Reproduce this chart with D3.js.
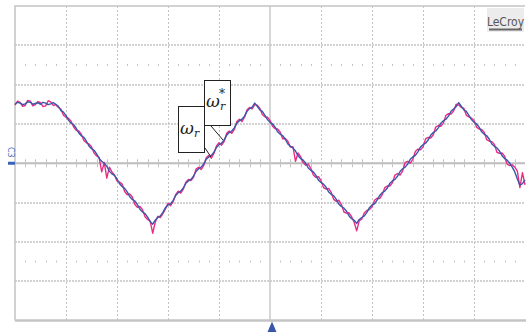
<!DOCTYPE html>
<html>
<head>
<meta charset="utf-8">
<script src="https://cdn.jsdelivr.net/npm/d3@7"></script>
<style>
    body { margin: 0; background: #fff; }
    svg { display: block; }
</style>
</head>
<body>
<div id="scope"></div>
<script>
// screen is 10 x 8 divisions, traces read every 0.05 div
const divsX = d3.range(0, 11)
const divsY = d3.range(-4, 5)
const sampleTimes = d3.range(0, 201).map(i => +(i * 0.05).toFixed(2))

// omega_r (pink, noisier)
const omegaR = [
    1.48, 1.58, 1.55, 1.45, 1.47, 1.60, 1.58, 1.46, 1.49, 1.57,
    1.54, 1.44, 1.46, 1.59, 1.56, 1.47, 1.49, 1.42, 1.38, 1.22,
    1.17, 1.14, 1.07, 0.92, 0.84, 0.82, 0.74, 0.58, 0.52, 0.49,
    0.42, 0.26, 0.19, 0.15, -0.22, 0.02, -0.38, -0.10, -0.22, -0.30,
    -0.45, -0.48, -0.53, -0.72, -0.80, -0.78, -0.86, -1.05, -1.12, -1.10,
    -1.18, -1.36, -1.43, -1.47, -1.78, -1.50, -1.35, -1.38, -1.28, -1.16,
    -1.02, -1.08, -0.98, -0.80, -0.71, -0.76, -0.66, -0.48, -0.41, -0.44,
    -0.36, -0.15, -0.10, -0.16, -0.06, 0.14, 0.20, 0.13, 0.25, 0.44,
    0.52, 0.46, 0.55, 0.76, 0.82, 0.76, 0.86, 1.06, 1.12, 1.06,
    1.17, 1.36, 1.42, 1.38, 1.49, 1.48, 1.40, 1.24, 1.18, 1.17,
    1.09, 0.94, 0.88, 0.87, 0.79, 0.62, 0.63, 0.56, 0.41, 0.42,
    0.05, 0.26, 0.17, 0.02, -0.05, -0.02, -0.13, -0.30, -0.36, -0.34,
    -0.44, -0.62, -0.66, -0.64, -0.74, -0.92, -0.97, -0.94, -1.05, -1.24,
    -1.27, -1.26, -1.36, -1.50, -1.72, -1.46, -1.42, -1.26, -1.20, -1.18,
    -1.11, -0.94, -0.89, -0.90, -0.80, -0.62, -0.58, -0.58, -0.50, -0.30,
    -0.26, -0.30, -0.20, 0.02, 0.05, 0.00, 0.10, 0.30, 0.36, 0.34,
    0.41, 0.62, 0.66, 0.64, 0.72, 0.92, 0.96, 0.94, 1.02, 1.22,
    1.26, 1.25, 1.33, 1.50, 1.48, 1.42, 1.40, 1.22, 1.18, 1.15,
    1.09, 0.92, 0.87, 0.86, 0.79, 0.60, 0.56, 0.55, 0.48, 0.28,
    0.25, 0.26, 0.18, -0.02, -0.06, -0.04, -0.10, -0.20, -0.62, -0.24,
    -0.55
]

// omega_r* (blue)
const omegaRef = [
    1.50, 1.55, 1.53, 1.49, 1.51, 1.56, 1.55, 1.50, 1.52, 1.54,
    1.50, 1.55, 1.53, 1.49, 1.51, 1.54, 1.50, 1.45, 1.34, 1.30,
    1.21, 1.09, 1.02, 0.98, 0.89, 0.77, 0.70, 0.66, 0.56, 0.44,
    0.37, 0.33, 0.24, 0.12, 0.05, 0.00, -0.08, -0.20, -0.27, -0.31,
    -0.40, -0.52, -0.59, -0.64, -0.73, -0.85, -0.92, -0.96, -1.05, -1.17,
    -1.24, -1.28, -1.37, -1.48, -1.55, -1.45, -1.38, -1.34, -1.25, -1.13,
    -1.06, -1.03, -0.95, -0.82, -0.75, -0.71, -0.63, -0.51, -0.45, -0.41,
    -0.33, -0.21, -0.14, -0.10, -0.02, 0.10, 0.16, 0.20, 0.28, 0.40,
    0.47, 0.51, 0.59, 0.71, 0.78, 0.82, 0.90, 1.02, 1.08, 1.12,
    1.20, 1.32, 1.39, 1.43, 1.53, 1.45, 1.36, 1.32, 1.22, 1.11,
    1.04, 1.00, 0.92, 0.80, 0.74, 0.70, 0.61, 0.49, 0.43, 0.39,
    0.31, 0.19, 0.12, 0.08, 0.00, -0.12, -0.18, -0.22, -0.31, -0.43,
    -0.49, -0.53, -0.61, -0.73, -0.79, -0.83, -0.92, -1.04, -1.10, -1.14,
    -1.22, -1.34, -1.41, -1.45, -1.53, -1.43, -1.38, -1.34, -1.25, -1.13,
    -1.06, -1.03, -0.94, -0.82, -0.75, -0.71, -0.63, -0.51, -0.45, -0.41,
    -0.33, -0.21, -0.14, -0.10, -0.02, 0.10, 0.16, 0.20, 0.29, 0.41,
    0.47, 0.51, 0.59, 0.71, 0.78, 0.82, 0.90, 1.02, 1.08, 1.12,
    1.20, 1.32, 1.38, 1.44, 1.54, 1.45, 1.36, 1.32, 1.22, 1.11,
    1.04, 1.00, 0.92, 0.80, 0.74, 0.70, 0.61, 0.49, 0.43, 0.39,
    0.31, 0.19, 0.12, 0.08, 0.00, -0.10, -0.22, -0.40, -0.56, -0.52,
    -0.42
]

const W = 529, H = 332
const svg = d3.select("#scope").append("svg")
    .attr("width", W)
    .attr("height", H)

const x = d3.scaleLinear().domain([0, 10]).range([15, 525])
const y = d3.scaleLinear().domain([-4, 4]).range([320.5, 6])

const grid = svg.append("g")
const gridColor = "#c4c4c4"

// vertical dotted grid
grid.selectAll(".vg")
    .data(divsX.filter(d => d > 0 && d < 10 && d !== 5))
    .enter().append("line")
    .attr("x1", d => Math.round(x(d)) + 0.5).attr("x2", d => Math.round(x(d)) + 0.5)
    .attr("y1", y(4)).attr("y2", y(-4))
    .attr("stroke", gridColor)
    .attr("stroke-dasharray", "2,2")

// horizontal dashed grid (a bit heavier)
grid.selectAll(".hg")
    .data(divsY.filter(d => d > -4 && d < 4 && d !== 0))
    .enter().append("line")
    .attr("x1", x(0)).attr("x2", x(10))
    .attr("y1", d => Math.round(y(d))).attr("y2", d => Math.round(y(d)))
    .attr("stroke", gridColor)
    .attr("stroke-width", 1.6)
    .attr("stroke-dasharray", "2,1")

// faint minor marks in rows 2-3 and 6-7
const minor = []
for (let d = 0; d < 10; d++) {
    for (let k = 1; k < 5; k++) {
        minor.push({t: d + k / 5, v: 2.5})
        minor.push({t: d + k / 5, v: -2.5})
    }
}
grid.selectAll(".mm")
    .data(minor)
    .enter().append("line")
    .attr("x1", d => Math.round(x(d.t)) + 0.5).attr("x2", d => Math.round(x(d.t)) + 0.5)
    .attr("y1", d => y(d.v) - 1).attr("y2", d => y(d.v) + 1)
    .attr("stroke", gridColor)

// centre axes
grid.append("line")
    .attr("x1", x(0)).attr("x2", x(10))
    .attr("y1", y(0)).attr("y2", y(0))
    .attr("stroke", "#bdbdbd").attr("stroke-width", 2)
grid.append("line")
    .attr("x1", x(5)).attr("x2", x(5))
    .attr("y1", y(4)).attr("y2", y(-4))
    .attr("stroke", "#c8c8c8").attr("stroke-width", 1.5)

// ticks along the centre line, 5 per division
grid.selectAll(".ct")
    .data(d3.range(1, 50).filter(i => i % 5 !== 0).map(i => i / 5))
    .enter().append("line")
    .attr("x1", d => Math.round(x(d)) + 0.5).attr("x2", d => Math.round(x(d)) + 0.5)
    .attr("y1", y(0) - 4).attr("y2", y(0) + 4)
    .attr("stroke", "#c4c4c4")

// frame
grid.append("path")
    .attr("d", `M${x(0)},${y(-4)}V${y(4)}H${x(10)}`)
    .attr("fill", "none")
    .attr("stroke", "#c4c4c4").attr("stroke-width", 1.5)
grid.append("line")
    .attr("x1", x(0)).attr("x2", x(10) + 1)
    .attr("y1", y(-4)).attr("y2", y(-4))
    .attr("stroke", "#c4c4c4").attr("stroke-width", 2.5)

// traces
const line = d3.line()
    .x((d, i) => x(sampleTimes[i]))
    .y(d => y(d))

svg.append("path")
    .datum(omegaR)
    .attr("d", line)
    .attr("fill", "none")
    .attr("stroke", "#ec2c84")
    .attr("stroke-width", 1.4)
    .attr("stroke-linejoin", "round")

svg.append("path")
    .datum(omegaRef)
    .attr("d", line)
    .attr("fill", "none")
    .attr("stroke", "#3a58a8")
    .attr("stroke-width", 1.4)
    .attr("stroke-linejoin", "round")

// annotation boxes
const labels = svg.append("g")
labels.append("line")
    .attr("x1", 205).attr("y1", 148).attr("x2", 211).attr("y2", 157)
    .attr("stroke", "#222")
labels.append("line")
    .attr("x1", 211).attr("y1", 126).attr("x2", 223).attr("y2", 140)
    .attr("stroke", "#222")
labels.append("rect")
    .attr("x", 178.5).attr("y", 106.5).attr("width", 26).attr("height", 46)
    .attr("fill", "#fff").attr("stroke", "#222")
labels.append("rect")
    .attr("x", 204.5).attr("y", 80.5).attr("width", 26).attr("height", 45)
    .attr("fill", "#fff").attr("stroke", "#222")

const tex = labels.append("text")
    .attr("x", 180).attr("y", 134)
    .attr("font-family", "'DejaVu Serif', serif")
    .attr("font-style", "italic")
    .attr("font-size", 17)
    .attr("fill", "#222")
tex.append("tspan").text("ω")
tex.append("tspan").attr("font-size", 11).attr("dy", 3).text("r")

const tex2 = labels.append("text")
    .attr("x", 206).attr("y", 107)
    .attr("font-family", "'DejaVu Serif', serif")
    .attr("font-style", "italic")
    .attr("font-size", 17)
    .attr("fill", "#222")
tex2.append("tspan").text("ω")
tex2.append("tspan").attr("font-size", 11).attr("dy", 3).text("r")
labels.append("text")
    .attr("x", 219).attr("y", 98)
    .attr("font-family", "'DejaVu Serif', serif")
    .attr("font-size", 12)
    .attr("fill", "#222")
    .text("*")

// LeCroy badge
svg.append("rect")
    .attr("x", 487).attr("y", 8).attr("width", 37).attr("height", 24)
    .attr("fill", "#ececec")
svg.append("text")
    .attr("x", 505.5).attr("y", 26)
    .attr("text-anchor", "middle")
    .attr("font-family", "'Liberation Sans Narrow', 'DejaVu Sans Condensed', sans-serif")
    .attr("font-size", 12)
    .attr("fill", "#555")
    .text("LeCroy")
svg.append("line")
    .attr("x1", 489).attr("x2", 522).attr("y1", 29.5).attr("y2", 29.5)
    .attr("stroke", "#666").attr("stroke-width", 2)

// channel marker
svg.append("line")
    .attr("x1", 8).attr("x2", 15).attr("y1", y(0)).attr("y2", y(0))
    .attr("stroke", "#3a60b8").attr("stroke-width", 3)
svg.append("text")
    .attr("transform", `translate(8,147) rotate(90)`)
    .attr("font-family", "'DejaVu Sans', sans-serif")
    .attr("font-size", 8)
    .attr("fill", "#5070c0")
    .text("C3")

// trigger arrow
svg.append("path")
    .attr("d", `M${x(5) + 2},${y(-4) + 1}L${x(5) + 6.5},332L${x(5) - 2.5},332Z`)
    .attr("fill", "#3a58a8")
</script>
</body>
</html>
